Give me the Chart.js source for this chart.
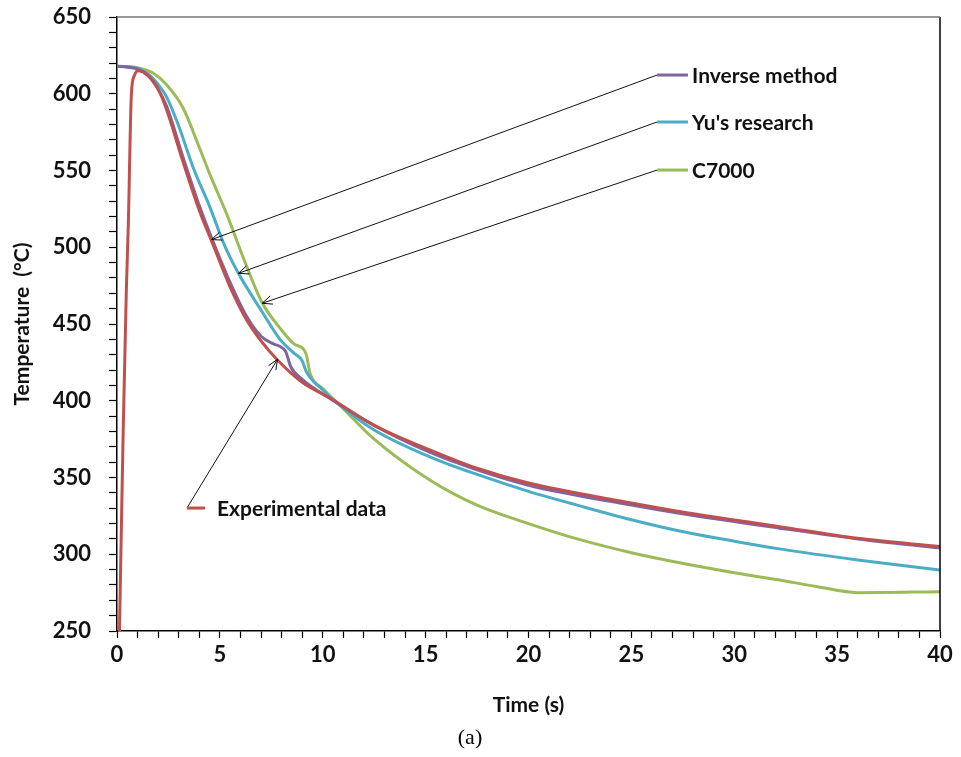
<!DOCTYPE html>
<html lang="en">

<head>
    <meta charset="UTF-8" />
    <title>Temperature vs time</title>
    <script src="https://cdn.jsdelivr.net/npm/chart.js"></script>
    <style>
        html, body { margin: 0; padding: 0; background: #fff; }
        canvas { display: block; }
    </style>
</head>

<body>
    <canvas id="tempChart" width="961" height="757"></canvas>

    <script>
        // Experimental data
        const expTime = [0.12, 0.3, 0.45, 0.55, 0.7, 0.85, 1.0, 1.5, 2.0, 2.4, 3.2, 4.0, 4.6, 5.5, 6.3, 7.0, 7.8, 9.0, 10.35, 12.5, 15.2, 17.5, 20, 25, 27.4, 32.2, 36, 40];
        const expTemp = [250, 380, 470, 515, 600, 612, 615, 612, 603, 590, 556, 524, 504, 474, 452.6, 439, 426.5, 412, 401.8, 384, 368, 356, 346.4, 333.4, 327.7, 318, 310.4, 305];

        // Inverse method
        const invTime = [0, 1.0, 1.5, 2.0, 2.41, 3.2, 4.03, 4.6, 5.5, 6.3, 7.0, 7.6, 7.9, 8.2, 8.45, 9.0, 10.35, 12.5, 15.2, 17.5, 20, 25, 27.4, 32.2, 36, 40];
        const invTemp = [618, 616, 612, 603, 592, 559, 526, 506, 477, 455, 442, 437, 435.5, 432, 422, 414, 401.5, 384, 366.5, 355, 345, 332, 326.5, 317, 310, 304];

        // Yu's research
        const yuTime = [0, 1.0, 1.5, 2.0, 2.41, 3.0, 3.7, 4.52, 5.2, 5.9, 7.05, 7.92, 8.6, 9.0, 9.2, 10.0, 10.84, 12.5, 15.2, 17.5, 20, 22.5, 25, 27.4, 30, 32.2, 36, 40];
        const yuTemp = [618, 616.5, 613, 606, 598, 579, 552, 526, 502, 483, 458, 440, 431, 426, 419, 407, 397, 381, 363.5, 352, 341, 331.5, 322.5, 315, 308.5, 303.5, 296.3, 289.7];

        // C7000
        const cTime = [0, 1.0, 1.75, 2.4, 3.2, 4.03, 4.5, 5.35, 6.2, 7.05, 8.0, 8.6, 9.04, 9.2, 9.38, 10.0, 10.84, 12.5, 15.2, 17.5, 20, 22.5, 25, 27.4, 30, 32.2, 34, 36, 40];
        const cTemp = [618, 617, 613.5, 606, 591, 564, 548, 521, 491, 464, 446, 437, 434, 430, 418, 408, 397, 375, 348.4, 332, 320, 309.5, 301, 294.3, 288, 283.2, 279, 275, 275.6];

        const seriesNames = ['Inverse method', "Yu's research", 'C7000', 'Experimental data'];
        const seriesColors = ['#8064A2', '#4BACC6', '#9BBB59', '#C0504D'];

        const toPoints = (xs, ys) => xs.map((x, i) => ({ x: x, y: ys[i] }));

        // labels with arrows (data units)
        const notes = [
            { text: seriesNames[0], color: seriesColors[0], x0: 26.25, x1: 27.75, tx: 27.95, y: 612.2, ax: 4.6, ay: 505 },
            { text: seriesNames[1], color: seriesColors[1], x0: 26.25, x1: 27.75, tx: 27.95, y: 581.6, ax: 5.9, ay: 483 },
            { text: seriesNames[2], color: seriesColors[2], x0: 26.25, x1: 27.75, tx: 27.95, y: 550.3, ax: 7.05, ay: 463.5 },
            { text: seriesNames[3], color: seriesColors[3], x0: 3.4, x1: 4.28, tx: 4.86, y: 330.1, ax: 7.8, ay: 427 }
        ];

        const FONT = 'Lato, "Open Sans", sans-serif';

        const notesPlugin = {
            id: 'notes',
            afterDatasetsDraw(chart) {
                const { ctx, chartArea, scales } = chart;
                ctx.save();
                // frame
                ctx.lineWidth = 1.5;
                ctx.strokeStyle = '#000';
                ctx.beginPath();
                ctx.moveTo(chartArea.right, chartArea.top);
                ctx.lineTo(chartArea.right, chartArea.bottom);
                ctx.stroke();
                ctx.strokeStyle = '#777';
                ctx.beginPath();
                ctx.moveTo(chartArea.left, chartArea.top);
                ctx.lineTo(chartArea.right, chartArea.top);
                ctx.stroke();

                notes.forEach(n => {
                    const px0 = scales.x.getPixelForValue(n.x0);
                    const px1 = scales.x.getPixelForValue(n.x1);
                    const py = scales.y.getPixelForValue(n.y);
                    const ax = scales.x.getPixelForValue(n.ax);
                    const ay = scales.y.getPixelForValue(n.ay);

                    // arrow line
                    ctx.strokeStyle = '#111';
                    ctx.lineWidth = 1;
                    ctx.beginPath();
                    ctx.moveTo(px0, py);
                    ctx.lineTo(ax, ay);
                    ctx.stroke();
                    const ang = Math.atan2(ay - py, ax - px0);
                    const len = 11;
                    ctx.beginPath();
                    ctx.moveTo(ax - len * Math.cos(ang - 0.4), ay - len * Math.sin(ang - 0.4));
                    ctx.lineTo(ax, ay);
                    ctx.lineTo(ax - len * Math.cos(ang + 0.4), ay - len * Math.sin(ang + 0.4));
                    ctx.stroke();

                    // marker
                    ctx.strokeStyle = n.color;
                    ctx.lineWidth = 3;
                    ctx.beginPath();
                    ctx.moveTo(px0, py);
                    ctx.lineTo(px1, py);
                    ctx.stroke();

                    // text
                    ctx.fillStyle = '#111';
                    ctx.font = 'bold 21px ' + FONT;
                    ctx.textBaseline = 'middle';
                    ctx.textAlign = 'left';
                    ctx.fillText(n.text, scales.x.getPixelForValue(n.tx), py + 1);
                });
                ctx.restore();
            }
        };

        const mkSet = (i, xs, ys, order) => ({
            label: seriesNames[i],
            data: toPoints(xs, ys),
            borderColor: seriesColors[i],
            borderWidth: 3,
            pointRadius: 0,
            fill: false,
            cubicInterpolationMode: 'monotone',
            order: order
        });

        const chart = new Chart(document.getElementById('tempChart').getContext('2d'), {
            type: 'line',
            data: {
                datasets: [
                    mkSet(2, cTime, cTemp, 4),
                    mkSet(1, yuTime, yuTemp, 3),
                    mkSet(0, invTime, invTemp, 2),
                    mkSet(3, expTime, expTemp, 1)
                ]
            },
            options: {
                responsive: false,
                animation: false,
                layout: { padding: { top: 17, right: 21, left: 0, bottom: 0 } },
                scales: {
                    x: {
                        type: 'linear',
                        min: 0,
                        max: 40,
                        border: { color: '#000', width: 1.5 },
                        grid: { drawOnChartArea: false, color: '#000', tickLength: 7, tickWidth: 1.2 },
                        ticks: {
                            stepSize: 1,
                            autoSkip: false,
                            maxRotation: 0,
                            color: '#111',
                            padding: 4,
                            font: { family: FONT, size: 22, weight: 'bold' },
                            callback: v => (v % 5 === 0 ? String(v) : '')
                        },
                        title: {
                            display: true,
                            text: 'Time (s)',
                            color: '#111',
                            padding: { top: 2, bottom: 7 },
                            font: { family: FONT, size: 21, weight: 'bold' }
                        },
                        afterFit: s => { s.height = 93.6; s.paddingLeft = 0; s.paddingRight = 0; }
                    },
                    y: {
                        min: 250,
                        max: 650,
                        border: { color: '#000', width: 1.5 },
                        grid: { drawOnChartArea: false, color: '#000', tickLength: 8, tickWidth: 1.2 },
                        ticks: {
                            stepSize: 10,
                            autoSkip: false,
                            color: '#111',
                            padding: 18,
                            font: { family: FONT, size: 22, weight: 'bold' },
                            callback: v => (v % 50 === 0 ? String(v) : '')
                        },
                        title: {
                            display: true,
                            text: 'Temperature  (°C)',
                            color: '#111',
                            padding: { top: 10, bottom: 0 },
                            font: { family: FONT, size: 21, weight: 'bold' }
                        },
                        afterFit: s => { s.width = 117; s.paddingTop = 0; s.paddingBottom = 0; }
                    }
                },
                plugins: {
                    legend: { display: false },
                    tooltip: { enabled: false },
                    title: {
                        display: true,
                        position: 'bottom',
                        text: '(a)',
                        color: '#000',
                        padding: { top: 0, bottom: 6 },
                        font: { family: '"Liberation Serif", serif', size: 22, weight: 'normal' }
                    }
                }
            },
            plugins: [notesPlugin]
        });
    </script>
</body>

</html>
